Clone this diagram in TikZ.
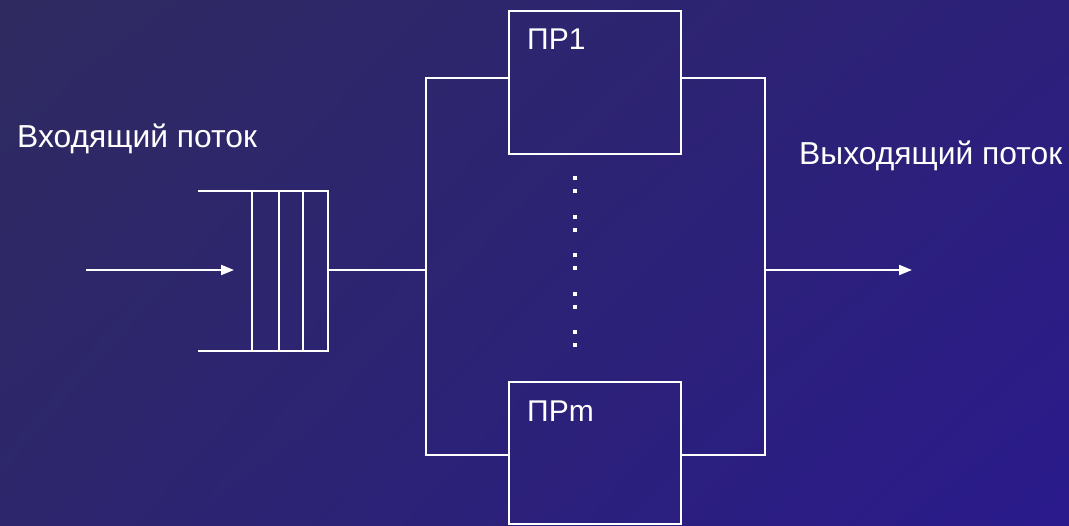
\documentclass[tikz,border=0pt]{standalone}
\usepackage{fontspec}
\setmainfont{Liberation Sans}
\usetikzlibrary{arrows.meta,shadings}
\definecolor{bgA}{RGB}{47,43,96}
\definecolor{bgB}{RGB}{44,32,122}
\definecolor{bgC}{RGB}{45,38,108}
\definecolor{bgD}{RGB}{42,26,140}
\tikzset{
  wire/.style={draw=white, line width=2pt},
  arr/.style={wire, -{Triangle[length=13pt,width=10pt]}},
  procbox/.style={wire, rectangle, minimum width=172pt, minimum height=143pt, anchor=north west, inner sep=0pt, outer sep=0pt},
  qbox/.style={wire, rectangle, minimum width=76pt, minimum height=160pt, inner sep=0pt, outer sep=0pt},
  lbl/.style={text=white, font=\fontsize{31.8}{36}\selectfont, anchor=base west, inner sep=0pt},
  plbl/.style={lbl, font=\fontsize{30}{34}\selectfont},
  dot/.style={fill=white}
}
\begin{document}
\begin{tikzpicture}[x=1pt,y=-1pt]
\useasboundingbox (0,0) rectangle (1069,526);
\shade[upper left=bgA, upper right=bgB, lower left=bgC, lower right=bgD] (0,0) rectangle (1069,526);
% processors
\node[procbox] (p1) at (509,11) {};
\node[procbox, minimum height=142pt] (pm) at (509,382) {};
\node[plbl] (l1) at (527,50) {ПР1};
\node[plbl] (lm) at (527,422) {ПРm};
% queue
\node[qbox] (q) at (290,271) {};
\coordinate (qa) at (198,191);
\coordinate (qb) at (198,351);
\draw[wire] (qa) -- (q.north west);
\draw[wire] (qb) -- (q.south west);
\draw[wire] (279,191) -- (279,351);
\draw[wire] (303,191) -- (303,351);
% input
\coordinate (in) at (86,270);
\coordinate (qin) at (234,270);
\draw[arr] (in) -- (qin);
% left bus
\coordinate (bl) at (426,270);
\coordinate (bl1) at (426,78);
\coordinate (bl2) at (426,455);
\draw[wire] (q.east |- bl) -- (bl);
\draw[wire] (p1.west |- bl1) -- (bl1) -- (bl2) -- (pm.west |- bl2);
% right bus
\coordinate (br) at (765,270);
\coordinate (br1) at (765,78);
\coordinate (br2) at (765,455);
\coordinate (out) at (912,270);
\draw[wire] (p1.east |- br1) -- (br1) -- (br2) -- (pm.east |- br2);
\draw[arr] (br) -- (out);
% dots
\foreach \y in {178,191,217,230,255,268,294,307,332,345}
  \fill[dot] (573,\y-2) rectangle (577,\y+2);
% texts
\node[lbl] (tin) at (17,148) {Входящий поток};
\node[lbl] (tout) at (799,165) {Выходящий поток};
\end{tikzpicture}
\end{document}
